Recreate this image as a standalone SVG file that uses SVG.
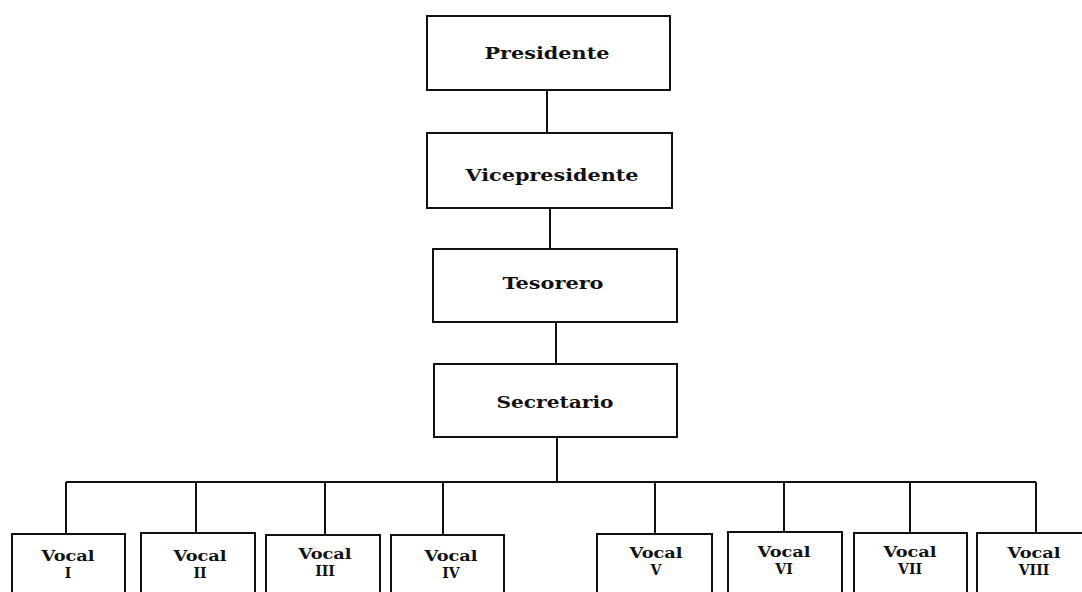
<svg xmlns="http://www.w3.org/2000/svg" width="1082" height="592" viewBox="0 0 1082 592">
<style>
.box{fill:#fff;stroke:#111;stroke-width:2}
.ln{fill:none;stroke:#111;stroke-width:2}
.t{font-family:"DejaVu Serif","Liberation Serif",serif;font-weight:bold;fill:#111;text-anchor:middle}
.big{font-size:17px}
.sm{font-size:14px}
</style>
<rect width="1082" height="592" fill="#fff"/>
<g id="connectors">
<path class="ln" d="M547 90V133M550 208V249M556 322V364M557 437V482M66 482H1036M66 482V534M196 482V534M325 482V534M443 482V534M655 482V534M784 482V534M910 482V534M1036 482V534"/>
</g>
<g id="presidente"><rect class="box" x="427" y="16" width="243" height="74"/><text class="t big" x="547" y="59" textLength="125" lengthAdjust="spacingAndGlyphs">Presidente</text></g>
<g id="vicepresidente"><rect class="box" x="427" y="133" width="245" height="75"/><text class="t big" x="552" y="181" textLength="173" lengthAdjust="spacingAndGlyphs">Vicepresidente</text></g>
<g id="tesorero"><rect class="box" x="433" y="249" width="244" height="73"/><text class="t big" x="553" y="289" textLength="101" lengthAdjust="spacingAndGlyphs">Tesorero</text></g>
<g id="secretario"><rect class="box" x="434" y="364" width="243" height="73"/><text class="t big" x="555" y="408" textLength="117" lengthAdjust="spacingAndGlyphs">Secretario</text></g>
<g id="vocal1"><rect class="box" x="12" y="534" width="113" height="70"/><text class="t sm" x="68" y="561" textLength="53" lengthAdjust="spacingAndGlyphs">Vocal</text><text class="t sm" x="68" y="578">I</text></g>
<g id="vocal2"><rect class="box" x="141" y="533" width="114" height="70"/><text class="t sm" x="200" y="561" textLength="53" lengthAdjust="spacingAndGlyphs">Vocal</text><text class="t sm" x="200" y="578">II</text></g>
<g id="vocal3"><rect class="box" x="266" y="535" width="114" height="70"/><text class="t sm" x="325" y="559" textLength="53" lengthAdjust="spacingAndGlyphs">Vocal</text><text class="t sm" x="325" y="576">III</text></g>
<g id="vocal4"><rect class="box" x="391" y="535" width="113" height="70"/><text class="t sm" x="451" y="561" textLength="53" lengthAdjust="spacingAndGlyphs">Vocal</text><text class="t sm" x="451" y="578">IV</text></g>
<g id="vocal5"><rect class="box" x="597" y="534" width="115" height="70"/><text class="t sm" x="656" y="558" textLength="53" lengthAdjust="spacingAndGlyphs">Vocal</text><text class="t sm" x="656" y="575">V</text></g>
<g id="vocal6"><rect class="box" x="728" y="532" width="114" height="70"/><text class="t sm" x="784" y="557" textLength="53" lengthAdjust="spacingAndGlyphs">Vocal</text><text class="t sm" x="784" y="574">VI</text></g>
<g id="vocal7"><rect class="box" x="854" y="533" width="113" height="70"/><text class="t sm" x="910" y="557" textLength="53" lengthAdjust="spacingAndGlyphs">Vocal</text><text class="t sm" x="910" y="574">VII</text></g>
<g id="vocal8"><rect class="box" x="977" y="533" width="113" height="70"/><text class="t sm" x="1034" y="558" textLength="53" lengthAdjust="spacingAndGlyphs">Vocal</text><text class="t sm" x="1034" y="575">VIII</text></g>
</svg>
